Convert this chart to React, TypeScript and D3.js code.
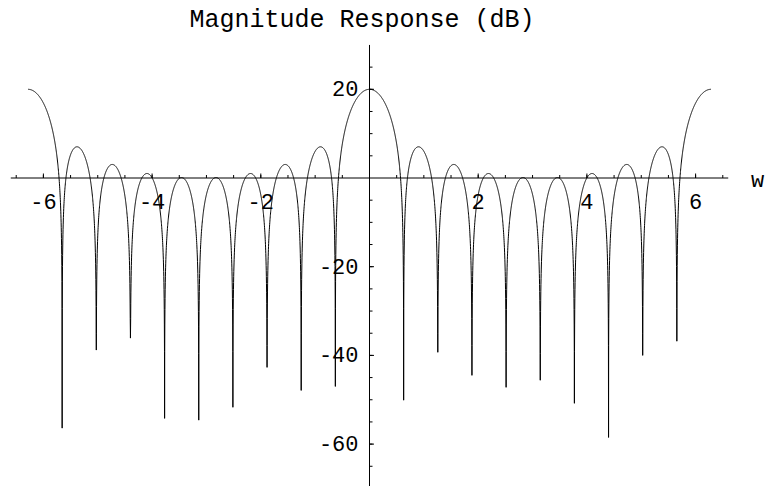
import React from "react";
import * as d3 from "d3";

// Filter definition: 10-tap moving average, |H(w)| = |sin(N w / 2) / sin(w / 2)|
const taps = 10;
const wDomain = [-2 * Math.PI, 2 * Math.PI];

// Depth (dB) reached by the plotted curve at each spectral null, ordered by frequency
const nullOrder = [-9, -8, -7, -6, -5, -4, -3, -2, -1, 1, 2, 3, 4, 5, 6, 7, 8, 9];
const nullDepth = [
  -56.4, -38.8, -36.1, -54.2, -54.6, -51.7, -42.7, -47.9, -47.0,
  -50.1, -39.3, -44.5, -47.2, -45.6, -50.8, -58.5, -40.0, -36.8,
];

// Axis ticks
const xMajorTicks = [-6, -4, -2, 2, 4, 6];
const xMinorTicks = d3.range(-6.5, 6.51, 0.5).filter((v) => Math.abs(v) > 1e-9);
const yMajorTicks = [-60, -40, -20, 20];
const yMinorTicks = d3.range(-65, 26, 5).filter((v) => v !== 0);

const title = "Magnitude Response (dB)";
const xLabel = "w";

const W = 765;
const H = 486;
const FONT = "'Liberation Mono', 'DejaVu Sans Mono', monospace";

function responseDb(w: number): number {
  const num = Math.sin((taps * w) / 2);
  const den = Math.sin(w / 2);
  const mag = Math.abs(den) < 1e-12 ? taps : Math.abs(num / den);
  return 20 * Math.log10(mag);
}

export default function App() {
  const x = d3.scaleLinear().domain(wDomain).range([28, 711]);
  const y = d3.scaleLinear().domain([0, 20]).range([178, 89.3]);

  const nullW = nullOrder.map((k) => (2 * Math.PI * k) / taps);

  // Sample the response, flooring each null at its plotted depth
  const samples: [number, number][] = [];
  const n = 6000;
  for (let i = 0; i <= n; i++) {
    const w = wDomain[0] + ((wDomain[1] - wDomain[0]) * i) / n;
    let nearest = 0;
    for (let j = 1; j < nullW.length; j++) {
      if (Math.abs(nullW[j] - w) < Math.abs(nullW[nearest] - w)) nearest = j;
    }
    const v = responseDb(w);
    if (v > nullDepth[nearest]) samples.push([w, v]);
  }
  nullW.forEach((w, j) => samples.push([w, nullDepth[j]]));
  samples.sort((a, b) => a[0] - b[0]);

  const line = d3
    .line<[number, number]>()
    .x((d) => x(d[0]))
    .y((d) => y(d[1]));

  const x0 = x(0);
  const y0 = y(0);

  return (
    <svg
      width={W}
      height={H}
      style={{ position: "absolute", left: 0, top: 0, background: "#fff" }}
    >
      <rect width={W} height={H} fill="#fff" />
      <text
        x={362}
        y={27}
        textAnchor="middle"
        fontFamily={FONT}
        fontSize={25}
        fill="#000"
      >
        {title}
      </text>

      {/* x axis */}
      <line x1={x(-6.6)} x2={x(6.6)} y1={y0} y2={y0} stroke="#000" strokeWidth={1} />
      {xMinorTicks.map((t) => (
        <line key={"xm" + t} x1={x(t)} x2={x(t)} y1={y0} y2={y0 - 3} stroke="#000" strokeWidth={1} />
      ))}
      {xMajorTicks.map((t) => (
        <g key={"xM" + t}>
          <line x1={x(t)} x2={x(t)} y1={y0} y2={y0 - 4.5} stroke="#000" strokeWidth={1} />
          <text
            x={x(t)}
            y={209}
            textAnchor="middle"
            fontFamily={FONT}
            fontSize={22}
            fill="#000"
          >
            {t < 0 ? "-" + Math.abs(t) : String(t)}
          </text>
        </g>
      ))}
      <text x={751} y={187} fontFamily={FONT} fontSize={22} fill="#000">
        {xLabel}
      </text>

      {/* y axis */}
      <line x1={x0} x2={x0} y1={y(30)} y2={H} stroke="#000" strokeWidth={1} />
      {yMinorTicks.map((t) => (
        <line key={"ym" + t} x1={x0} x2={x0 + 3} y1={y(t)} y2={y(t)} stroke="#000" strokeWidth={1} />
      ))}
      {yMajorTicks.map((t) => (
        <g key={"yM" + t}>
          <line x1={x0} x2={x0 + 4.5} y1={y(t)} y2={y(t)} stroke="#000" strokeWidth={1} />
          <text
            x={x0 - 11}
            y={y(t) + 7}
            textAnchor="end"
            fontFamily={FONT}
            fontSize={22}
            fill="#000"
          >
            {t < 0 ? "-" + Math.abs(t) : String(t)}
          </text>
        </g>
      ))}

      {/* response curve */}
      <path d={line(samples) || ""} fill="none" stroke="#000" strokeWidth={1} />
    </svg>
  );
}
